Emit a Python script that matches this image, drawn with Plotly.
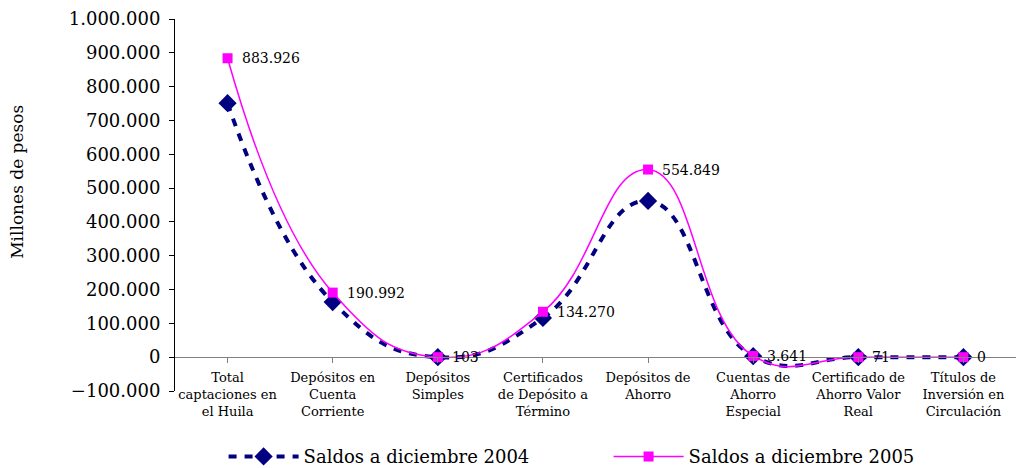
import plotly.graph_objects as go

categories = [
    "Total<br>captaciones en<br>el Huila",
    "Depósitos en<br>Cuenta<br>Corriente",
    "Depósitos<br>Simples",
    "Certificados<br>de Depósito a<br>Término",
    "Depósitos de<br>Ahorro",
    "Cuentas de<br>Ahorro<br>Especial",
    "Certificado de<br>Ahorro Valor<br>Real",
    "Títulos de<br>Inversión en<br>Circulación",
]
saldos_2004 = [751000, 163000, 90, 116000, 462000, 3000, 60, 0]
saldos_2005 = [883926, 190992, 103, 134270, 554849, 3641, 71, 0]
y_ticks = [-100000, 0, 100000, 200000, 300000, 400000, 500000,
           600000, 700000, 800000, 900000, 1000000]

SERIF = "DejaVu Serif"
x = list(range(len(categories)))

fig = go.Figure()
fig.add_trace(go.Scatter(
    x=x, y=saldos_2004, name="Saldos a diciembre 2004",
    mode="lines+markers",
    line=dict(color="#000080", width=4, dash="8px,8px", shape="spline", smoothing=1.3),
    marker=dict(symbol="diamond", size=14, color="#000080"),
    hoverinfo="y",
))
fig.add_trace(go.Scatter(
    x=x, y=saldos_2005, name="Saldos a diciembre 2005",
    mode="lines+markers",
    line=dict(color="#FF00FF", width=1.5, shape="spline", smoothing=1.3),
    marker=dict(symbol="square", size=10, color="#FF00FF"),
    hoverinfo="y",
))

label_annotations = [
    dict(x=xi, y=yi, xref="x", yref="y", text=f"{yi:,}".replace(",", "."),
         showarrow=False, xanchor="left", yanchor="middle", xshift=12,
         font=dict(family=SERIF, size=14, color="#000000"))
    for xi, yi in zip(x, saldos_2005)
]

fig.update_layout(
    width=1016, height=468,
    margin=dict(l=175, r=0, t=19, b=77),
    plot_bgcolor="white", paper_bgcolor="white",
    separators=",.",
    showlegend=True,
    legend=dict(
        orientation="h", xref="container", yref="container",
        x=0.599, xanchor="center", y=0.024, yanchor="middle",
        font=dict(family=SERIF, size=18, color="#000000"),
        itemwidth=70, entrywidth=300, entrywidthmode="pixels",
    ),
    annotations=label_annotations + [dict(
        text="Millones de pesos", textangle=-90, showarrow=False,
        xref="paper", yref="paper", x=-0.188, y=0.562,
        xanchor="center", yanchor="middle",
        font=dict(family=SERIF, size=17, color="#000000"),
    )],
)
fig.update_xaxes(
    range=[-0.5, 7.5], tickvals=x, ticktext=categories,
    anchor="free", position=(0 - (-100000)) / 1100000,
    showline=True, linecolor="#808080", linewidth=1,
    ticks="outside", tickson="boundaries", ticklen=5, tickcolor="#808080",
    ticklabelstandoff=3,
    showgrid=False, zeroline=False, automargin=False,
    tickfont=dict(family=SERIF, size=13, color="#000000"),
)
fig.update_yaxes(
    range=[-100000, 1000000], tickvals=y_ticks, tickformat=",d",
    showline=True, linecolor="#000000", linewidth=1,
    ticks="outside", ticklen=5, tickcolor="#000000",
    ticklabelstandoff=5,
    showgrid=False, zeroline=False, automargin=False,
    tickfont=dict(family=SERIF, size=18, color="#000000"),
)

fig.write_html("out.html", config={"displayModeBar": False},
               post_script="document.body.style.margin='0';document.body.style.padding='0';")
